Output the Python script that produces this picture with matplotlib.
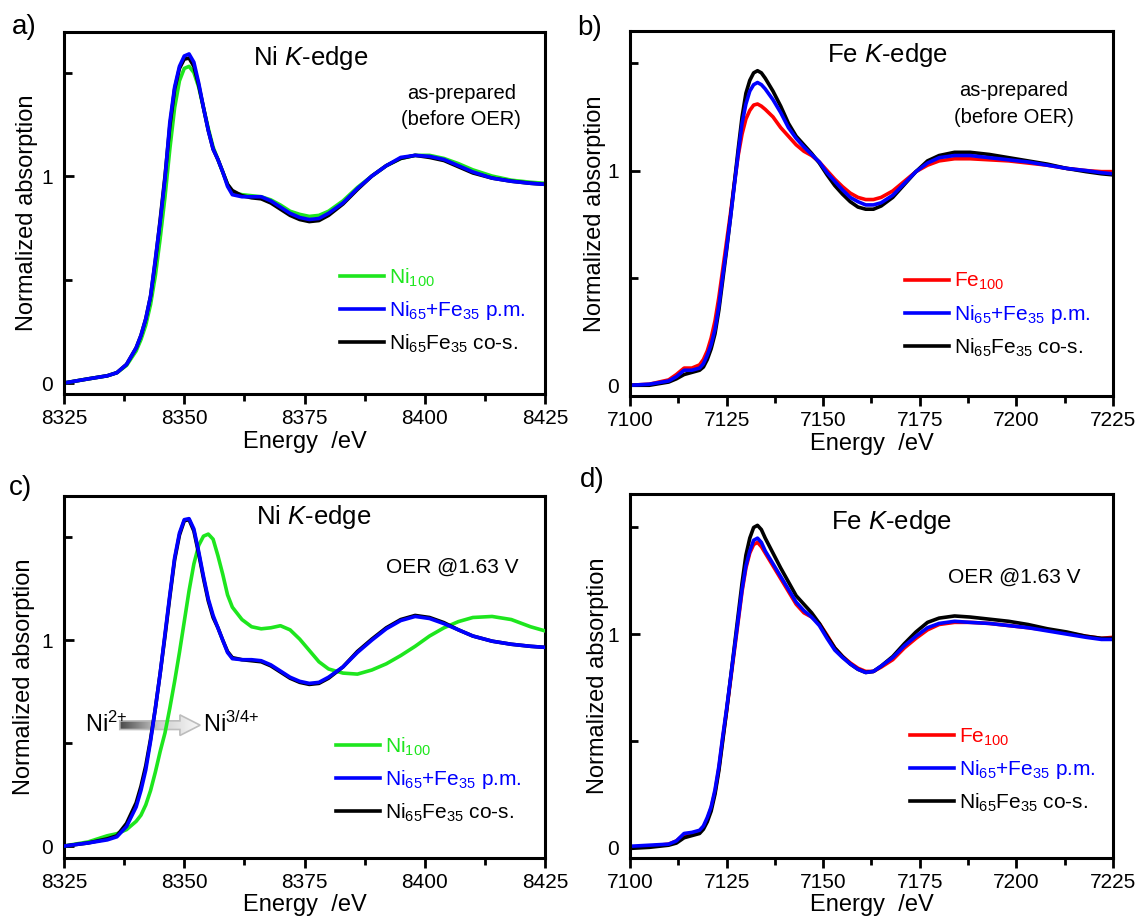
import numpy as np
import matplotlib
matplotlib.use("Agg")
import matplotlib.pyplot as plt
from matplotlib.patches import Polygon
from matplotlib.lines import Line2D
from matplotlib.colors import LinearSegmentedColormap

plt.rcParams["font.family"] = ["Liberation Sans", "DejaVu Sans"]
plt.rcParams["mathtext.fontset"] = "custom"
plt.rcParams["mathtext.rm"] = "Liberation Sans"
plt.rcParams["mathtext.it"] = "Liberation Sans:italic"
plt.rcParams["mathtext.bf"] = "Liberation Sans:bold"

# ---------------- data ----------------
ni_energy = [8325, 8330, 8334, 8336, 8338, 8340, 8341, 8342, 8343, 8344,
             8345, 8346, 8347, 8348, 8349, 8350, 8351, 8352, 8353, 8354,
             8355, 8356, 8357, 8358, 8359, 8360, 8362, 8364, 8366, 8368,
             8370, 8372, 8374, 8376, 8378, 8380, 8383, 8386, 8389, 8392,
             8395, 8398, 8401, 8404, 8407, 8410, 8414, 8418, 8422, 8425]

# a) Ni K-edge, as-prepared
a_ni100 = [0.00, 0.02, 0.035, 0.05, 0.085, 0.155, 0.21, 0.28, 0.38, 0.52,
           0.70, 0.90, 1.13, 1.33, 1.46, 1.52, 1.53, 1.50, 1.43, 1.33,
           1.23, 1.14, 1.08, 1.02, 0.96, 0.92, 0.91, 0.905, 0.90, 0.885,
           0.86, 0.83, 0.815, 0.805, 0.81, 0.83, 0.88, 0.945, 1.00, 1.05,
           1.085, 1.10, 1.10, 1.085, 1.06, 1.03, 1.00, 0.98, 0.97, 0.965]
a_pm = [0.00, 0.02, 0.035, 0.05, 0.09, 0.17, 0.23, 0.31, 0.42, 0.60,
        0.78, 0.99, 1.26, 1.43, 1.53, 1.58, 1.59, 1.55, 1.45, 1.33,
        1.22, 1.13, 1.08, 1.02, 0.95, 0.91, 0.90, 0.90, 0.90, 0.88,
        0.85, 0.82, 0.80, 0.79, 0.795, 0.82, 0.87, 0.94, 1.00, 1.05,
        1.09, 1.10, 1.095, 1.08, 1.05, 1.02, 0.99, 0.975, 0.965, 0.96]
a_cos = [0.00, 0.02, 0.035, 0.05, 0.09, 0.17, 0.23, 0.31, 0.42, 0.59,
         0.79, 1.00, 1.24, 1.42, 1.52, 1.565, 1.57, 1.53, 1.44, 1.33,
         1.22, 1.13, 1.08, 1.02, 0.96, 0.93, 0.905, 0.895, 0.89, 0.87,
         0.84, 0.81, 0.79, 0.78, 0.785, 0.81, 0.865, 0.935, 1.00, 1.05,
         1.085, 1.10, 1.09, 1.075, 1.045, 1.015, 0.99, 0.975, 0.965, 0.96]

# c) Ni K-edge, OER @1.63 V
c_ni100 = [0.00, 0.02, 0.05, 0.06, 0.08, 0.12, 0.15, 0.20, 0.27, 0.36,
           0.46, 0.55, 0.67, 0.80, 0.94, 1.09, 1.24, 1.37, 1.46, 1.505,
           1.515, 1.49, 1.41, 1.32, 1.22, 1.16, 1.10, 1.065, 1.055, 1.06,
           1.07, 1.05, 1.005, 0.95, 0.895, 0.86, 0.84, 0.835, 0.855, 0.885,
           0.925, 0.97, 1.02, 1.06, 1.09, 1.11, 1.115, 1.10, 1.065, 1.045]
c_pm = [0.00, 0.015, 0.03, 0.045, 0.095, 0.19, 0.27, 0.37, 0.51, 0.67,
        0.84, 1.03, 1.22, 1.40, 1.52, 1.585, 1.59, 1.54, 1.43, 1.31,
        1.20, 1.12, 1.06, 1.00, 0.94, 0.91, 0.905, 0.905, 0.90, 0.88,
        0.85, 0.82, 0.80, 0.79, 0.795, 0.82, 0.87, 0.94, 1.00, 1.055,
        1.095, 1.115, 1.105, 1.08, 1.05, 1.02, 0.995, 0.98, 0.97, 0.965]
c_cos = [0.00, 0.015, 0.035, 0.05, 0.11, 0.21, 0.29, 0.39, 0.52, 0.67,
         0.84, 1.02, 1.21, 1.39, 1.51, 1.58, 1.585, 1.53, 1.42, 1.30,
         1.19, 1.11, 1.06, 1.00, 0.945, 0.915, 0.905, 0.90, 0.895, 0.875,
         0.845, 0.815, 0.795, 0.785, 0.79, 0.815, 0.87, 0.945, 1.005, 1.06,
         1.10, 1.12, 1.11, 1.085, 1.05, 1.02, 0.995, 0.98, 0.97, 0.965]

fe_energy = [7100, 7105, 7110, 7112, 7114, 7116, 7118, 7119, 7120, 7121,
             7122, 7123, 7124, 7125, 7126, 7127, 7128, 7129, 7130, 7131,
             7132, 7133, 7134, 7135, 7137, 7139, 7141, 7143, 7145, 7147,
             7149, 7151, 7153, 7155, 7157, 7159, 7161, 7163, 7165, 7168,
             7171, 7174, 7177, 7180, 7184, 7188, 7193, 7198, 7203, 7208,
             7213, 7218, 7222, 7225]

# b) Fe K-edge, as-prepared
b_fe100 = [0.00, 0.005, 0.025, 0.05, 0.08, 0.08, 0.095, 0.12, 0.16, 0.22,
           0.30, 0.41, 0.54, 0.67, 0.80, 0.94, 1.07, 1.17, 1.24, 1.28,
           1.305, 1.31, 1.30, 1.285, 1.25, 1.20, 1.16, 1.12, 1.09, 1.07,
           1.04, 1.00, 0.96, 0.925, 0.895, 0.875, 0.865, 0.865, 0.875, 0.905,
           0.95, 0.995, 1.025, 1.045, 1.055, 1.055, 1.05, 1.045, 1.035, 1.025,
           1.01, 1.00, 0.995, 0.995]
b_pm = [0.00, 0.005, 0.02, 0.04, 0.07, 0.07, 0.08, 0.10, 0.14, 0.19,
        0.26, 0.37, 0.51, 0.64, 0.78, 0.93, 1.08, 1.22, 1.31, 1.37,
        1.40, 1.41, 1.40, 1.38, 1.33, 1.27, 1.20, 1.15, 1.11, 1.075,
        1.04, 0.99, 0.95, 0.91, 0.875, 0.855, 0.84, 0.84, 0.85, 0.885,
        0.94, 0.995, 1.035, 1.06, 1.07, 1.07, 1.06, 1.05, 1.04, 1.025,
        1.01, 1.00, 0.99, 0.985]
b_cos = [0.00, 0.00, 0.015, 0.03, 0.05, 0.06, 0.07, 0.085, 0.12, 0.17,
         0.24, 0.35, 0.49, 0.63, 0.78, 0.94, 1.10, 1.25, 1.36, 1.42,
         1.455, 1.465, 1.455, 1.43, 1.37, 1.30, 1.22, 1.16, 1.12, 1.08,
         1.035, 0.98, 0.93, 0.89, 0.855, 0.83, 0.82, 0.82, 0.835, 0.875,
         0.935, 0.995, 1.045, 1.07, 1.085, 1.085, 1.075, 1.06, 1.045, 1.03,
         1.01, 0.995, 0.985, 0.98]

# d) Fe K-edge, OER @1.63 V
d_fe100 = [0.00, 0.005, 0.015, 0.03, 0.06, 0.065, 0.075, 0.095, 0.13, 0.185,
           0.26, 0.37, 0.51, 0.64, 0.78, 0.92, 1.06, 1.20, 1.31, 1.38,
           1.42, 1.43, 1.41, 1.38, 1.32, 1.26, 1.20, 1.14, 1.10, 1.08,
           1.05, 0.995, 0.935, 0.895, 0.865, 0.84, 0.825, 0.825, 0.845, 0.88,
           0.935, 0.98, 1.02, 1.045, 1.055, 1.055, 1.05, 1.04, 1.03, 1.02,
           1.005, 0.99, 0.98, 0.985]
d_pm = [0.005, 0.01, 0.015, 0.03, 0.065, 0.07, 0.08, 0.10, 0.14, 0.19,
        0.27, 0.38, 0.52, 0.65, 0.79, 0.93, 1.07, 1.21, 1.32, 1.39,
        1.44, 1.45, 1.43, 1.39, 1.33, 1.27, 1.21, 1.15, 1.11, 1.08,
        1.04, 0.98, 0.925, 0.89, 0.86, 0.835, 0.82, 0.825, 0.85, 0.89,
        0.945, 0.99, 1.03, 1.05, 1.06, 1.055, 1.05, 1.04, 1.03, 1.015,
        1.00, 0.985, 0.975, 0.975]
d_cos = [-0.005, 0.00, 0.01, 0.02, 0.045, 0.055, 0.065, 0.085, 0.12, 0.17,
         0.25, 0.36, 0.50, 0.64, 0.79, 0.94, 1.09, 1.24, 1.37, 1.45,
         1.50, 1.51, 1.49, 1.45, 1.38, 1.31, 1.245, 1.18, 1.14, 1.10,
         1.05, 0.99, 0.935, 0.895, 0.86, 0.835, 0.82, 0.825, 0.85, 0.895,
         0.955, 1.01, 1.055, 1.075, 1.085, 1.08, 1.07, 1.06, 1.045, 1.025,
         1.01, 0.99, 0.98, 0.98]

lbl_ni100 = "Ni$_{100}$"
lbl_fe100 = "Fe$_{100}$"
lbl_pm = "Ni$_{65}$+Fe$_{35}$ p.m."
lbl_cos = "Ni$_{65}$Fe$_{35}$ co-s."

GREEN = "#1ee61e"
BLUE = "#0000ff"
RED = "#ff0000"
BLACK = "#000000"

W, H = 1138, 921
fig = plt.figure(figsize=(W / 100, H / 100), dpi=100)


def px_axes(left, right, top, bottom):
    return fig.add_axes([left / W, 1 - bottom / H, (right - left) / W, (bottom - top) / H])


def style_axes(ax, xlim, ylim, xmaj, ylab_x, xlab_y=-0.102):
    ax.set_xlim(*xlim)
    ax.set_ylim(*ylim)
    ax.set_xticks(np.arange(xlim[0], xlim[1] + 1, xmaj))
    ax.set_xticks(np.arange(xlim[0] + xmaj / 2, xlim[1], xmaj), minor=True)
    ax.set_yticks([0, 1])
    ax.set_yticks([0.5, 1.5], minor=True)
    for s in ax.spines.values():
        s.set_linewidth(2.2)
    ax.tick_params(axis="x", which="major", direction="out", length=7, width=2,
                   labelsize=15, pad=4, top=False)
    ax.tick_params(axis="x", which="minor", direction="out", length=5, width=2, top=False)
    ax.tick_params(axis="y", which="major", direction="in", length=7, width=2,
                   labelsize=15, pad=8, right=False)
    ax.tick_params(axis="y", which="minor", direction="in", length=6, width=2, right=False)
    ax.set_xlabel("Energy  /eV", fontsize=17)
    ax.set_ylabel("Normalized absorption", fontsize=17)
    ax.yaxis.set_label_coords(ylab_x, 0.5)
    ax.xaxis.set_label_coords(0.5, xlab_y)


def add_legend(ax, colors, labels, x, y):
    handles = [Line2D([], [], color=c, lw=2.6) for c in colors]
    ax.legend(handles, labels, loc="upper left", bbox_to_anchor=(x, y),
              frameon=False, fontsize=15, handlelength=2.1, handletextpad=0.25,
              labelspacing=0.5, borderpad=0, borderaxespad=0,
              labelcolor=colors)


LW = 2.6

# ---- a)
ax = px_axes(64, 545, 32, 394)
ax.plot(ni_energy, a_ni100, color=GREEN, lw=LW)
ax.plot(ni_energy, a_cos, color=BLACK, lw=LW)
ax.plot(ni_energy, a_pm, color=BLUE, lw=LW)
style_axes(ax, (8325, 8425), (-0.053, 1.696), 25, -0.055)
ax.text(0.513, 0.928, "Ni $K$-edge", transform=ax.transAxes, ha="center", va="center", fontsize=18.5)
ax.text(0.826, 0.83, "as-prepared", transform=ax.transAxes, ha="center", va="center", fontsize=14.5)
ax.text(0.826, 0.757, "(before OER)", transform=ax.transAxes, ha="center", va="center", fontsize=14.5)
add_legend(ax, [GREEN, BLUE, BLACK], [lbl_ni100, lbl_pm, lbl_cos], 0.574, 0.352)

# ---- b)
ax = px_axes(630, 1113, 31, 396)
ax.plot(fe_energy, b_fe100, color=RED, lw=LW)
ax.plot(fe_energy, b_cos, color=BLACK, lw=LW)
ax.plot(fe_energy, b_pm, color=BLUE, lw=LW)
style_axes(ax, (7100, 7225), (-0.05, 1.65), 25, -0.05)
ax.text(0.534, 0.934, "Fe $K$-edge", transform=ax.transAxes, ha="center", va="center", fontsize=18.5)
ax.text(0.795, 0.838, "as-prepared", transform=ax.transAxes, ha="center", va="center", fontsize=14.5)
ax.text(0.795, 0.764, "(before OER)", transform=ax.transAxes, ha="center", va="center", fontsize=14.5)
add_legend(ax, [RED, BLUE, BLACK], [lbl_fe100, lbl_pm, lbl_cos], 0.569, 0.342)

# ---- c)
ax = px_axes(64, 545, 496, 858)
ax.plot(ni_energy, c_ni100, color=GREEN, lw=LW, zorder=3)
ax.plot(ni_energy, c_cos, color=BLACK, lw=LW, zorder=3)
ax.plot(ni_energy, c_pm, color=BLUE, lw=LW, zorder=3)
# gradient arrow Ni2+ -> Ni3/4+
x0, x1, ya = 8336.6, 8353.3, 0.587
sh, hh, hl = 0.021, 0.05, 4.2
verts = [(x0, ya - sh), (x1 - hl, ya - sh), (x1 - hl, ya - hh), (x1, ya),
         (x1 - hl, ya + hh), (x1 - hl, ya + sh), (x0, ya + sh)]
arrow = Polygon(verts, closed=True, facecolor="none", edgecolor="#bdbdbd", lw=1.2, zorder=2)
ax.add_patch(arrow)
cmap = LinearSegmentedColormap.from_list("g", ["#4a4a4a", "#d0d0d0", "#fafafa"])
im = ax.imshow(np.linspace(0, 1, 256).reshape(1, -1), cmap=cmap, aspect="auto",
               extent=[x0, x1, ya - hh, ya + hh], zorder=1.5, interpolation="bilinear")
im.set_clip_path(arrow)
ax.text(8329.4, 0.553, "Ni$^{2{+}}$", ha="left", va="baseline", fontsize=17)
ax.text(8353.9, 0.553, "Ni$^{3/4{+}}$", ha="left", va="baseline", fontsize=17)
style_axes(ax, (8325, 8425), (-0.058, 1.70), 25, -0.061, -0.10)
ax.text(0.52, 0.942, "Ni $K$-edge", transform=ax.transAxes, ha="center", va="center", fontsize=18.5)
ax.text(0.808, 0.804, "OER @1.63 V", transform=ax.transAxes, ha="center", va="center", fontsize=15)
add_legend(ax, [GREEN, BLUE, BLACK], [lbl_ni100, lbl_pm, lbl_cos], 0.565, 0.338)

# ---- d)
ax = px_axes(630, 1113, 494, 858)
ax.plot(fe_energy, d_fe100, color=RED, lw=LW)
ax.plot(fe_energy, d_cos, color=BLACK, lw=LW)
ax.plot(fe_energy, d_pm, color=BLUE, lw=LW)
style_axes(ax, (7100, 7225), (-0.05, 1.657), 25, -0.043, -0.10)
ax.text(0.542, 0.923, "Fe $K$-edge", transform=ax.transAxes, ha="center", va="center", fontsize=18.5)
ax.text(0.795, 0.772, "OER @1.63 V", transform=ax.transAxes, ha="center", va="center", fontsize=15)
add_legend(ax, [RED, BLUE, BLACK], [lbl_fe100, lbl_pm, lbl_cos], 0.58, 0.362)

# panel letters
for lab, xp, yp in [("a)", 24, 27), ("b)", 590, 28), ("c)", 21, 488), ("d)", 592, 480)]:
    fig.text(xp / W, 1 - yp / H, lab, ha="center", va="center", fontsize=20)

fig.savefig("out.png", dpi=100)
